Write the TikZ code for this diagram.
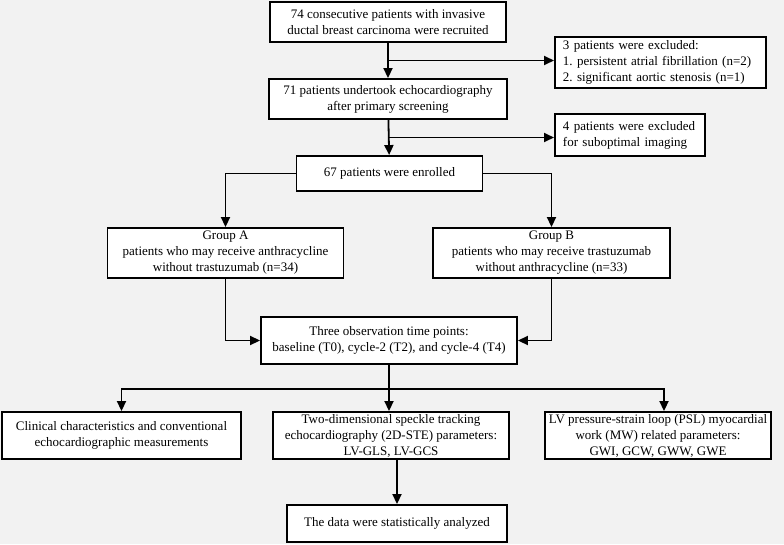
\documentclass[tikz,border=0pt]{standalone}
\usepackage{fontspec}
\setmainfont{Liberation Serif}
\usetikzlibrary{arrows.meta,calc}
\definecolor{bgc}{HTML}{F2F2F2}
\begin{document}
\frenchspacing
\begin{tikzpicture}[x=1pt,y=-1pt,
  box/.style={draw,line width=1.9pt,fill=white,align=center,inner sep=0pt,
    font=\fontsize{13}{16}\selectfont},
  lbox/.style={box,align=left,anchor=north west,inner xsep=8pt},
  arr/.style={line width=1.8pt,-{Triangle[length=10pt,width=9pt]}},
  ln/.style={line width=1.8pt}]
\fill[bgc] (0,0) rectangle (784,544);
\useasboundingbox (0,0) rectangle (784,544);

\node[box,minimum width=236pt,minimum height=40pt] (b1) at (388,22)
  {74 consecutive patients with invasive\\ductal breast carcinoma were recruited};
\node[lbox,text width=195pt,minimum height=51pt] (e1) at (554,36)
  {3 patients were excluded:\\1. persistent atrial fibrillation (n=2)\\2. significant aortic stenosis (n=1)};
\node[box,minimum width=238pt,minimum height=40pt] (b2) at (388,99)
  {71 patients undertook echocardiography\\after primary screening};
\node[lbox,text width=134pt,minimum height=42pt] (e2) at (554,113)
  {4 patients were excluded\\for suboptimal imaging};
\node[box,minimum width=186pt,minimum height=35pt] (b3) at (389.5,173.5)
  {67 patients were enrolled};
\node[box,minimum width=236pt,minimum height=50pt] (ga) at (225.5,253)
  {Group A\\patients who may receive anthracycline\\without trastuzumab (n=34)};
\node[box,minimum width=237pt,minimum height=50pt] (gb) at (551.5,253)
  {Group B\\patients who may receive trastuzumab\\without anthracycline (n=33)};
\node[box,minimum width=256pt,minimum height=47pt] (b4) at (389,340.5)
  {Three observation time points:\\baseline (T0), cycle-2 (T2), and cycle-4 (T4)};
\node[box,minimum width=239pt,minimum height=47pt] (b5) at (121.5,435.5)
  {Clinical characteristics and conventional\\echocardiographic measurements};
\node[box,minimum width=236pt,minimum height=47pt] (b6) at (391,435.5)
  {Two-dimensional speckle tracking\\echocardiography (2D-STE) parameters:\\LV-GLS, LV-GCS};
\node[box,minimum width=226pt,minimum height=47pt] (b7) at (658,435.5)
  {LV pressure-strain loop (PSL) myocardial\\work (MW) related parameters:\\GWI, GCW, GWW, GWE};
\node[box,minimum width=220pt,minimum height=37pt] (b8) at (397,523.5)
  {The data were statistically analyzed};

\draw[arr] (b1) -- (b2);
\coordinate (k1) at ($(b1.south)!0.5!(b2.north)$);
\draw[arr] (k1) -- (k1 -| e1.west);
\draw[arr] (b2) -- (b3);
\coordinate (k2) at ($(b2.south)!0.5!(b3.north)$);
\draw[arr] (k2) -- (k2 -| e2.west);
\draw[arr] (b3.west) -| (ga.north);
\draw[arr] (b3.east) -| (gb.north);
\draw[arr] (ga.south) |- (b4.west);
\draw[arr] (gb.south) |- (b4.east);
\coordinate (h) at ($(b4.south)+(0,24)$);
\draw[ln] (b4.south) -- (h);
\draw[arr] (h) -| (b5.north);
\draw[arr] (h) -| ($(b7.north)+(6,0)$);
\draw[arr] (h) -- (h |- b6.north);
\draw[arr] (b6.south -| b8.north) -- (b8.north);
\end{tikzpicture}
\end{document}
